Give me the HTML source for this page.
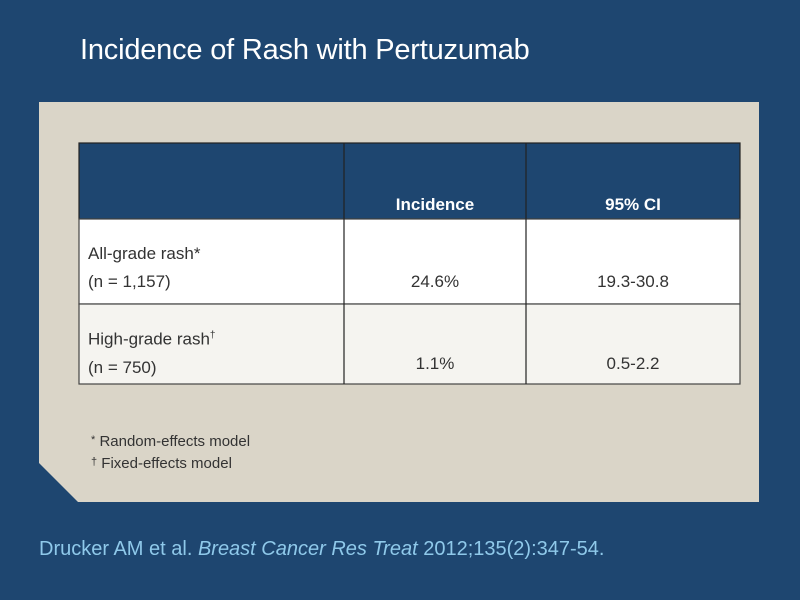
<!DOCTYPE html>
<html><head><meta charset="utf-8"><style>
body{margin:0;width:800px;height:600px;background:#1e4670;position:relative;overflow:hidden;font-family:"Liberation Sans",sans-serif}
.abs{position:absolute}
h1{position:absolute;left:80px;top:34px;margin:0;font-weight:normal;font-size:29px;color:#fff;letter-spacing:-0.2px}
.t{position:absolute;font-size:17px;color:#333}
</style></head><body>
<h1>Incidence of Rash with Pertuzumab</h1>
<svg class="abs" style="left:0;top:0" width="800" height="600">
<polygon points="39,102 759,102 759,502 78,502 39,463" fill="#dad5c8"/>
<rect x="79" y="143" width="661" height="76" fill="#1e4670" stroke="#222" stroke-width="1.2"/>
<rect x="79" y="219" width="661" height="85" fill="#fff" stroke="#444" stroke-width="1.2"/>
<rect x="79" y="304" width="661" height="80" fill="#f5f4f0" stroke="#444" stroke-width="1.2"/>
<line x1="344" y1="143" x2="344" y2="384" stroke="#222" stroke-width="1.2"/>
<line x1="526" y1="143" x2="526" y2="384" stroke="#222" stroke-width="1.2"/>
</svg>
<div class="t" style="left:344px;width:182px;text-align:center;top:195px;color:#fff;font-weight:bold">Incidence</div>
<div class="t" style="left:526px;width:214px;text-align:center;top:195px;color:#fff;font-weight:bold">95% CI</div>
<div class="t" style="left:88px;top:240px;line-height:28px">All-grade rash*<br>(n = 1,157)</div>
<div class="t" style="left:344px;width:182px;text-align:center;top:268px;line-height:28px">24.6%</div>
<div class="t" style="left:526px;width:214px;text-align:center;top:268px;line-height:28px">19.3-30.8</div>
<div class="t" style="left:88px;top:322px;line-height:28px">High-grade rash<sup style="font-size:10px">†</sup><br>(n = 750)</div>
<div class="t" style="left:344px;width:182px;text-align:center;top:350px;line-height:28px">1.1%</div>
<div class="t" style="left:526px;width:214px;text-align:center;top:350px;line-height:28px">0.5-2.2</div>
<div class="t" style="left:91px;top:430px;font-size:15px;line-height:21px"><span style="font-size:11px;vertical-align:3px">*</span> Random-effects model<br><span style="font-size:11px;vertical-align:3px">†</span> Fixed-effects model</div>
<div class="abs" style="left:39px;top:538px;font-size:20px;color:#8fc9ea">Drucker AM et al. <i>Breast Cancer Res Treat</i> 2012;135(2):347-54.</div>
</body></html>
